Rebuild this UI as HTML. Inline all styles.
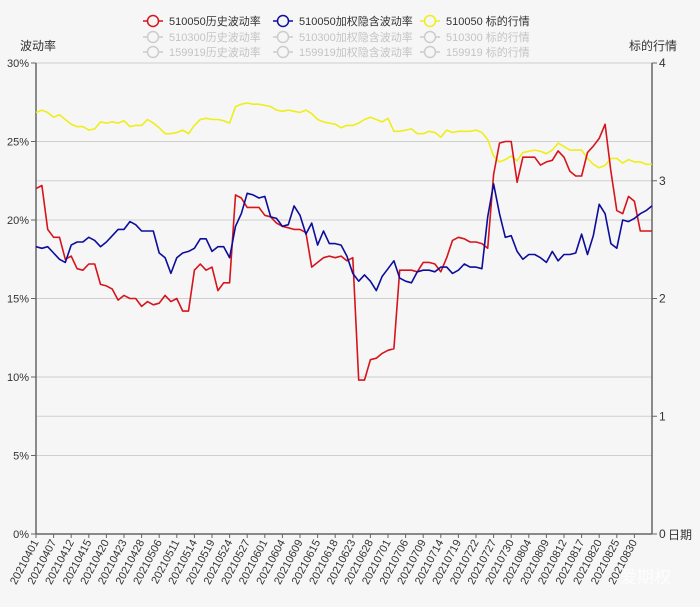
<!DOCTYPE html>
<html><head><meta charset="utf-8"><style>
html,body{margin:0;padding:0;background:#f6f6f6;}
svg{display:block;font-family:"Liberation Sans","Noto Sans CJK SC",sans-serif;}
</style></head><body>
<svg id="chart" width="700" height="607" viewBox="0 0 700 607">
<rect x="0" y="0" width="700" height="607" fill="#f6f6f6"/>
<g id="grid"></g>
<g id="axes"></g>
<g id="series"></g>
<g id="legend"></g>
<text x="20" y="50" font-size="12" fill="#333">波动率</text>
<text x="629" y="50" font-size="12" fill="#333">标的行情</text>
<text x="668" y="539" font-size="12" fill="#333">日期</text>
<text x="620" y="583" font-size="17" fill="#ffffff" opacity="0.85">爱期权</text>
</svg>
<script>
const histVol=[22.0,22.2,19.4,18.9,18.9,17.5,17.7,16.9,16.8,17.2,17.2,15.9,15.8,15.6,14.9,15.2,15.0,15.0,14.5,14.8,14.6,14.7,15.2,14.8,15.0,14.2,14.2,16.8,17.2,16.8,17.0,15.5,16.0,16.0,21.6,21.4,20.8,20.8,20.8,20.3,20.2,19.8,19.6,19.5,19.4,19.4,19.2,17.0,17.3,17.6,17.7,17.6,17.7,17.4,17.6,9.8,9.8,11.1,11.2,11.5,11.7,11.8,16.8,16.8,16.8,16.7,17.3,17.3,17.2,16.7,17.6,18.7,18.9,18.8,18.6,18.6,18.5,18.2,22.9,24.9,25.0,25.0,22.4,24.0,24.0,24.0,23.5,23.7,23.8,24.4,24.0,23.1,22.8,22.8,24.3,24.7,25.2,26.1,23.1,20.6,20.4,21.5,21.2,19.3,19.3,19.3];
const impVol=[18.3,18.2,18.3,17.9,17.5,17.3,18.4,18.6,18.6,18.9,18.7,18.3,18.6,19.0,19.4,19.4,19.9,19.7,19.3,19.3,19.3,17.9,17.6,16.6,17.6,17.9,18.0,18.2,18.8,18.8,18.0,18.3,18.3,17.6,19.6,20.4,21.7,21.6,21.4,21.5,20.2,20.1,19.6,19.7,20.9,20.3,19.1,19.8,18.4,19.3,18.5,18.5,18.4,17.7,16.6,16.1,16.5,16.1,15.5,16.4,16.9,17.4,16.3,16.1,16.0,16.7,16.8,16.8,16.7,17.0,17.0,16.6,16.8,17.2,17.0,17.0,16.9,20.2,22.3,20.4,18.9,19.0,18.0,17.5,17.8,17.8,17.6,17.3,18.0,17.4,17.8,17.8,17.9,19.1,17.8,19.0,21.0,20.4,18.5,18.2,20.0,19.9,20.1,20.4,20.6,20.9];
const price=[3.58,3.60,3.58,3.54,3.56,3.52,3.48,3.46,3.46,3.43,3.44,3.50,3.49,3.50,3.49,3.51,3.46,3.47,3.47,3.52,3.49,3.45,3.40,3.40,3.41,3.43,3.40,3.47,3.52,3.53,3.52,3.52,3.51,3.49,3.63,3.65,3.66,3.65,3.65,3.64,3.63,3.60,3.59,3.60,3.59,3.58,3.60,3.57,3.52,3.50,3.49,3.48,3.45,3.47,3.47,3.49,3.52,3.54,3.52,3.50,3.53,3.42,3.42,3.43,3.44,3.40,3.40,3.42,3.41,3.37,3.43,3.41,3.42,3.42,3.42,3.43,3.41,3.35,3.21,3.16,3.18,3.21,3.17,3.24,3.25,3.26,3.25,3.23,3.26,3.32,3.29,3.26,3.26,3.26,3.19,3.14,3.11,3.13,3.19,3.19,3.15,3.18,3.16,3.16,3.14,3.14];
const xLabels=["20210401","20210407","20210412","20210415","20210420","20210423","20210428","20210506","20210511","20210514","20210519","20210524","20210527","20210601","20210604","20210609","20210615","20210618","20210623","20210628","20210701","20210706","20210709","20210714","20210719","20210722","20210727","20210730","20210804","20210809","20210812","20210817","20210820","20210825","20210830"];
const leftTicks=["0%","5%","10%","15%","20%","25%","30%"];
const rightTicks=["0","1","2","3","4"];
const legendNames=["510050历史波动率","510050加权隐含波动率","510050 标的行情","510300历史波动率","510300加权隐含波动率","510300 标的行情","159919历史波动率","159919加权隐含波动率","159919 标的行情"];

const NS="http://www.w3.org/2000/svg";
const L=36,R=652,T=63,B=534,N=histVol.length;
const xs=i=>L+i*(R-L)/(N-1);
const yl=v=>B-v/30*(B-T);
const yr=v=>B-v/4*(B-T);
function mk(tag,attrs,parent,text){const e=document.createElementNS(NS,tag);for(const k in attrs)e.setAttribute(k,attrs[k]);if(text!==undefined)e.textContent=text;parent.appendChild(e);return e;}
const grid=document.getElementById('grid'),axes=document.getElementById('axes'),series=document.getElementById('series'),legend=document.getElementById('legend');

leftTicks.forEach((t,k)=>{const y=yl(k*5);
 if(k>0){const g=mk('line',{x1:L,x2:R,y1:y,y2:y,stroke:'#cfcfcf','stroke-width':1},grid);
 
 }
 mk('line',{x1:L-5,x2:L,y1:y,y2:y,stroke:'#666'},axes);
 const tx=mk('text',{x:L-7,y:y+4,'text-anchor':'end','font-size':11,fill:'#333'},axes,t);
 
 
});
rightTicks.forEach((t,k)=>{const y=yr(k);
 if(k>0&&k<4){const g=mk('line',{x1:L,x2:R,y1:y,y2:y,stroke:'#cfcfcf','stroke-width':1},grid);
 
 }
 mk('line',{x1:R,x2:R+5,y1:y,y2:y,stroke:'#666'},axes);
 const tx=mk('text',{x:R+7,y:y+4,'font-size':12,fill:'#333'},axes,t);
 
 
});
mk('line',{x1:L,x2:L,y1:T,y2:B,stroke:'#666','stroke-width':1.5},axes);
mk('line',{x1:R,x2:R,y1:T,y2:B,stroke:'#666','stroke-width':1.5},axes);
mk('line',{x1:L,x2:R,y1:B,y2:B,stroke:'#666','stroke-width':1.5},axes);
xLabels.forEach((t,k)=>{const x=xs(k*3);
 mk('line',{x1:x,x2:x,y1:B,y2:B+4,stroke:'#666'},axes);
 const tx=mk('text',{x:x+3,y:B+8,'text-anchor':'end','font-size':11,fill:'#333',transform:`rotate(-62 ${x+3} ${B+8})`},axes,t);
 
 
});
function line(arr,fy,color,name){const d=arr.map((v,i)=>(i?'L':'M')+xs(i).toFixed(1)+' '+fy(v).toFixed(1)).join(' ');
 const p=mk('path',{d:d,fill:'none',stroke:color,'stroke-width':1.6,'stroke-linejoin':'round'},series);
 
 }
line(price,yr,'#eeee1a','price-line');
line(histVol,yl,'#d6141c','hist-vol-line');
line(impVol,yl,'#0d0d9c','implied-vol-line');

const lx=[143,273,420],ly=[21,37,52],colors=['#d6141c','#0d0d9c','#eeee1a'];
legendNames.forEach((n,k)=>{const r=Math.floor(k/3),c=k%3;const col=r===0?colors[c]:'#cccccc';const tcol=r===0?'#333':'#c4c4c4';
 const g=mk('g',{},legend);
 
 
 mk('line',{x1:lx[c],x2:lx[c]+20,y1:ly[r],y2:ly[r],stroke:col,'stroke-width':1.5},g);
 mk('circle',{cx:lx[c]+10,cy:ly[r],r:5.5,fill:'#f6f6f6',stroke:col,'stroke-width':1.5},g);
 mk('text',{x:lx[c]+26,y:ly[r]+4,'font-size':11,fill:tcol},g,n);
});
</script>
</body></html>
